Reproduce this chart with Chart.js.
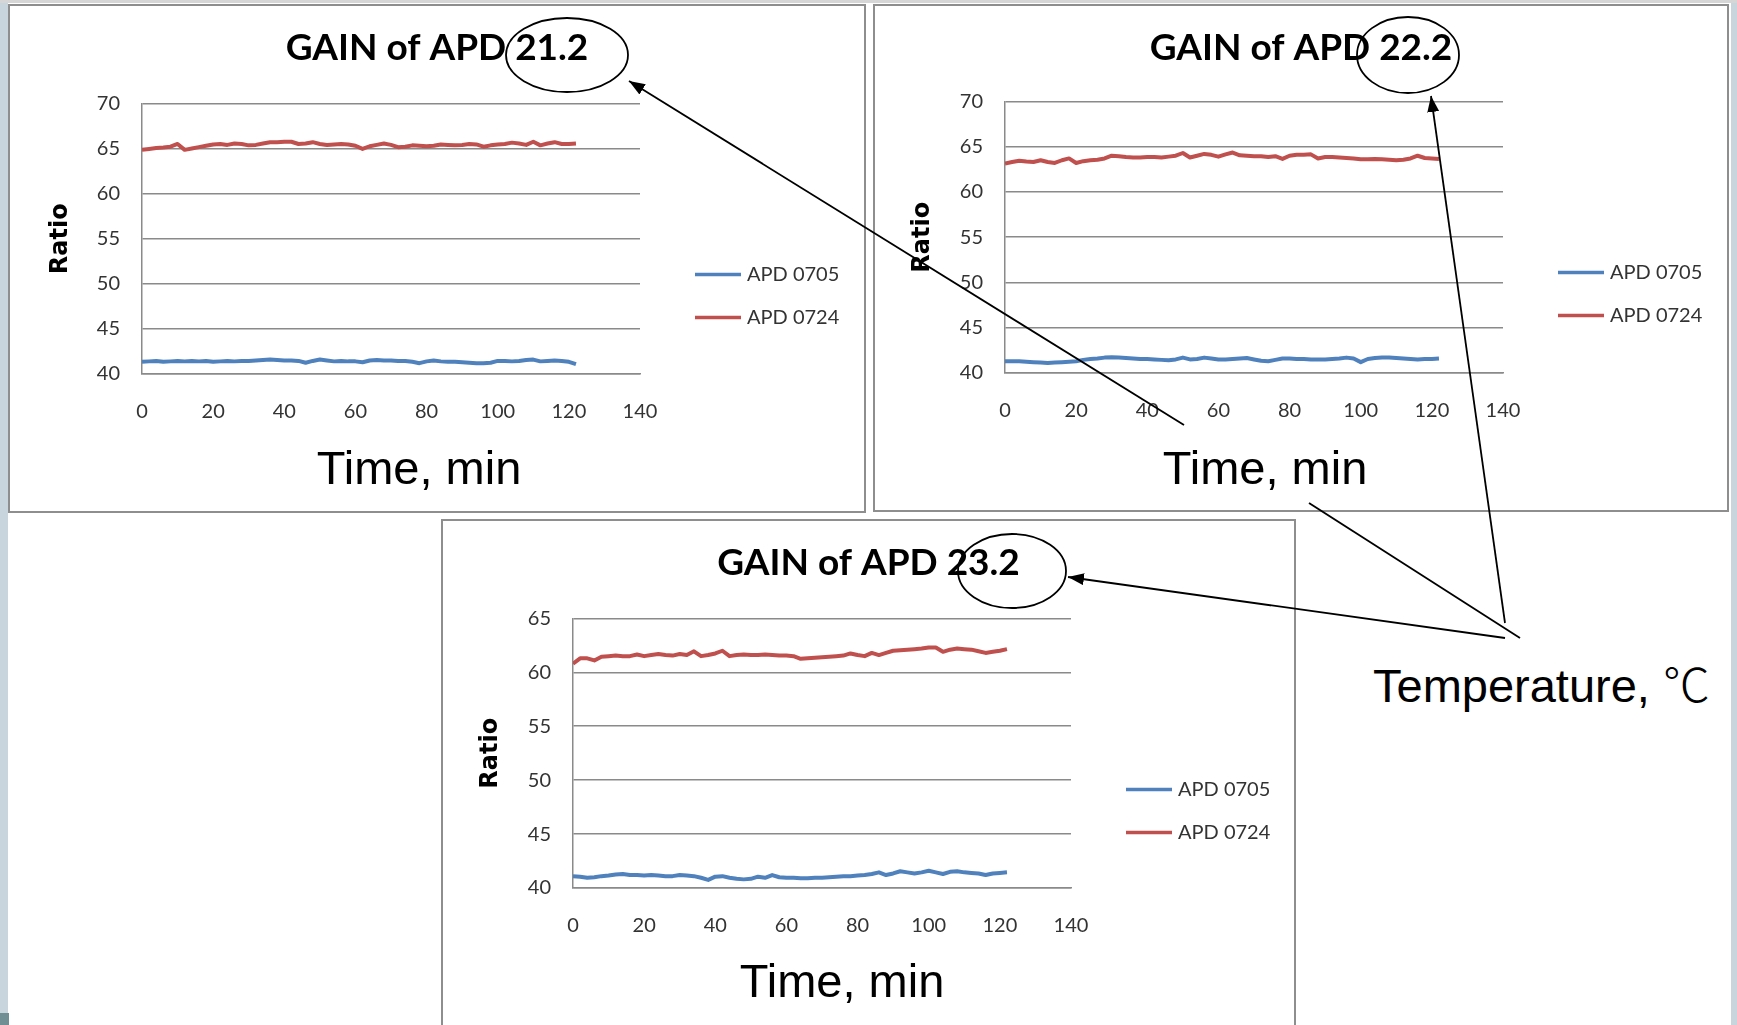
<!DOCTYPE html>
<html>
<head>
<meta charset="utf-8">
<script src="https://cdn.jsdelivr.net/npm/chart.js@4.4.0/dist/chart.umd.min.js"></script>
<style>
body { margin:0; width:1737px; height:1025px; position:relative; overflow:hidden; background:#fff; }
.strip { position:absolute; background:#c9d5dd; }
.box { position:absolute; border:2px solid #8e8e8e; background:#fff; box-sizing:border-box; }
.box canvas { position:absolute; left:0; top:0; }
.note { position:absolute; font-family:"Liberation Sans", Arial, sans-serif; font-size:47px; line-height:47px; color:#000; white-space:nowrap; }
.center { transform:translateX(-50%); }
.deg { font-family:"Noto Sans CJK SC", sans-serif; font-weight:300; }
svg { position:absolute; left:0; top:0; }
</style>
</head>
<body>
<div class="strip" style="left:0;top:0;width:8px;height:1025px"></div>
<div class="strip" style="left:1731px;top:0;width:6px;height:1025px"></div>
<div class="strip" style="left:0;top:0;width:1737px;height:3px;background:#d6d6d6"></div>
<div class="strip" style="left:0;top:1013px;width:9px;height:12px;background:#6f8f94"></div>

<div class="box" style="left:8px;top:4px;width:858px;height:509px"><canvas id="gain1" width="854" height="505"></canvas></div>
<div class="box" style="left:873px;top:4px;width:856px;height:508px"><canvas id="gain2" width="852" height="504"></canvas></div>
<div class="box" style="left:441px;top:519px;width:855px;height:510px"><canvas id="gain3" width="851" height="506"></canvas></div>

<div class="note center" style="left:419px;top:444px">Time, min</div>
<div class="note center" style="left:1265px;top:444px">Time, min</div>
<div class="note center" style="left:842px;top:957px">Time, min</div>
<div class="note" style="left:1373px;top:658px">Temperature, <span class="deg">℃</span></div>

<svg width="1737" height="1025">
  <defs>
    <marker id="head" markerUnits="userSpaceOnUse" markerWidth="16" markerHeight="12" refX="16" refY="6" orient="auto">
      <path d="M0,0 L16,6 L0,12 z" fill="#000"/>
    </marker>
  </defs>
  <g fill="none" stroke="#000" stroke-width="1.8">
    <ellipse cx="567" cy="55" rx="61" ry="37"/>
    <ellipse cx="1408" cy="55" rx="51" ry="38"/>
    <ellipse cx="1012" cy="571" rx="54" ry="37"/>
    <line x1="1184" y1="425" x2="629" y2="81" marker-end="url(#head)"/>
    <line x1="1505" y1="623" x2="1431" y2="96" marker-end="url(#head)"/>
    <line x1="1505" y1="638" x2="1068" y2="577" marker-end="url(#head)"/>
    <line x1="1309" y1="503" x2="1520" y2="638"/>
  </g>
</svg>

<script>
// time axis, minutes
var times = [0,2,4,6,8,10,12,14,16,18,20,22,24,26,28,30,32,34,36,38,40,42,44,46,48,50,52,54,56,58,
  60,62,64,66,68,70,72,74,76,78,80,82,84,86,88,90,92,94,96,98,100,102,104,106,108,110,112,114,116,118,120,122];
var xTicks = [0,20,40,60,80,100,120,140];
var yTicksAB = [40,45,50,55,60,65,70];
var yTicksC = [40,45,50,55,60,65];
var seriesNames = ["APD 0705", "APD 0724"];
var titles = ["GAIN of APD 21.2", "GAIN of APD 22.2", "GAIN of APD 23.2"];

// 21.2 C
var apd0705_a = [41.35,41.4,41.45,41.35,41.4,41.45,41.4,41.45,41.4,41.45,
  41.35,41.4,41.45,41.4,41.45,41.45,41.5,41.55,41.6,41.55,
  41.5,41.5,41.45,41.25,41.45,41.6,41.5,41.4,41.45,41.4,
  41.4,41.3,41.5,41.55,41.5,41.5,41.45,41.45,41.35,41.2,
  41.4,41.5,41.4,41.35,41.35,41.3,41.25,41.2,41.2,41.25,
  41.45,41.45,41.4,41.45,41.55,41.6,41.4,41.45,41.5,41.45,
  41.35,41.1];
var apd0724_a = [64.85,64.95,65.05,65.1,65.2,65.5,64.85,65.0,65.15,65.3,
  65.45,65.5,65.4,65.55,65.5,65.35,65.4,65.55,65.7,65.7,
  65.75,65.75,65.5,65.55,65.7,65.5,65.4,65.45,65.5,65.45,
  65.3,64.95,65.25,65.4,65.55,65.4,65.15,65.2,65.35,65.3,
  65.25,65.3,65.45,65.4,65.35,65.4,65.5,65.45,65.2,65.35,
  65.45,65.5,65.65,65.55,65.4,65.75,65.35,65.55,65.7,65.5,
  65.5,65.55];

// 22.2 C
var apd0705_b = [41.3,41.3,41.3,41.25,41.2,41.15,41.1,41.15,41.2,41.25,
  41.3,41.45,41.55,41.6,41.7,41.75,41.7,41.65,41.6,41.55,
  41.55,41.5,41.45,41.4,41.5,41.7,41.5,41.55,41.7,41.6,
  41.5,41.5,41.55,41.6,41.65,41.5,41.35,41.3,41.45,41.6,
  41.6,41.55,41.55,41.5,41.5,41.5,41.55,41.6,41.7,41.6,
  41.2,41.55,41.65,41.7,41.7,41.65,41.6,41.55,41.5,41.55,
  41.55,41.6];
var apd0724_b = [63.15,63.3,63.45,63.35,63.3,63.5,63.3,63.2,63.5,63.7,
  63.2,63.4,63.5,63.55,63.7,64.0,63.95,63.85,63.8,63.8,
  63.85,63.85,63.8,63.9,64.0,64.3,63.8,64.0,64.2,64.1,
  63.9,64.15,64.35,64.05,64.0,63.95,63.95,63.85,63.95,63.65,
  64.0,64.1,64.1,64.15,63.7,63.85,63.85,63.8,63.75,63.7,
  63.6,63.6,63.65,63.6,63.55,63.5,63.55,63.7,64.0,63.75,
  63.7,63.65];

// 23.2 C
var apd0705_c = [41.1,41.05,40.95,41.0,41.1,41.15,41.25,41.3,41.2,41.2,
  41.15,41.2,41.15,41.1,41.1,41.2,41.15,41.1,40.95,40.75,
  41.05,41.1,40.95,40.85,40.8,40.85,41.05,40.95,41.2,41.0,
  40.95,40.95,40.9,40.9,40.95,40.95,41.0,41.05,41.1,41.1,
  41.15,41.2,41.3,41.45,41.2,41.35,41.55,41.45,41.35,41.45,
  41.6,41.45,41.3,41.5,41.55,41.45,41.4,41.35,41.2,41.35,
  41.4,41.45];
var apd0724_c = [60.8,61.3,61.3,61.1,61.45,61.5,61.55,61.5,61.5,61.65,
  61.5,61.6,61.7,61.6,61.55,61.7,61.6,61.95,61.5,61.6,
  61.75,62.0,61.5,61.6,61.65,61.6,61.6,61.65,61.6,61.55,
  61.55,61.5,61.25,61.3,61.35,61.4,61.45,61.5,61.55,61.75,
  61.6,61.5,61.8,61.6,61.8,62.0,62.05,62.1,62.15,62.2,
  62.3,62.3,61.9,62.1,62.2,62.15,62.1,61.95,61.8,61.9,
  62.0,62.15];

Chart.defaults.font.family = "Lato";
Chart.defaults.color = "#333";

// legend drawn as line samples to the right of the plot
var legendLines = {
  id: "legendLines",
  afterDraw: function(chart) {
    var ctx = chart.ctx, a = chart.chartArea;
    ctx.save();
    chart.data.datasets.forEach(function(ds, i) {
      var x = a.right + 55, y = a.top + 171 + i * 43;
      ctx.strokeStyle = ds.borderColor;
      ctx.lineWidth = 3.5;
      ctx.beginPath(); ctx.moveTo(x, y); ctx.lineTo(x + 46, y); ctx.stroke();
      ctx.fillStyle = "#333";
      ctx.font = "20px Lato";
      ctx.textBaseline = "middle";
      ctx.fillText(ds.label, x + 52, y);
    });
    ctx.restore();
  }
};

function points(vals) {
  return times.map(function(t, i) { return {x: t, y: vals[i]}; });
}

function makeChart(id, title, blue, red, yTicks, g) {
  var grey = "#8a8a8a";
  return new Chart(document.getElementById(id), {
    type: "line",
    data: {
      datasets: [
        {label: seriesNames[0], data: points(blue), borderColor: "#4f81bd", borderWidth: 4, pointRadius: 0, tension: 0, borderJoinStyle: "round"},
        {label: seriesNames[1], data: points(red), borderColor: "#c0504d", borderWidth: 4, pointRadius: 0, tension: 0, borderJoinStyle: "round"}
      ]
    },
    options: {
      responsive: false,
      animation: false,
      layout: {padding: 0},
      plugins: {
        legend: {display: false},
        tooltip: {enabled: false},
        title: {
          display: true,
          text: title,
          color: "#000",
          font: {family: "Lato", size: 37, weight: "bold", lineHeight: 1.2},
          padding: {top: g.titleTop, bottom: g.titleBottom}
        }
      },
      scales: {
        x: {
          type: "linear",
          min: xTicks[0], max: xTicks[xTicks.length - 1],
          afterBuildTicks: function(s) { s.ticks = xTicks.map(function(v) { return {value: v}; }); },
          afterFit: function(s) { s.height = g.xHeight; },
          grid: {display: false, drawTicks: false},
          border: {display: true, color: grey, width: 1.5},
          ticks: {padding: 26, font: {size: 20}, color: "#333"}
        },
        y: {
          min: yTicks[0], max: yTicks[yTicks.length - 1],
          afterBuildTicks: function(s) { s.ticks = yTicks.map(function(v) { return {value: v}; }); },
          afterFit: function(s) { s.width = g.yWidth; },
          grid: {color: grey, lineWidth: 1.5, drawTicks: false},
          border: {display: true, color: grey, width: 1.5},
          ticks: {padding: 22, font: {size: 20}, color: "#333"},
          title: {
            display: true,
            text: "Ratio",
            color: "#000",
            font: {family: "DejaVu Sans", size: 24, weight: "bold", lineHeight: 1.2},
            padding: {top: g.ratioPad, bottom: 0}
          }
        },
        side: {
          position: "right",
          display: true,
          afterFit: function(s) { s.width = g.rightSpace; },
          grid: {display: false, drawTicks: false},
          border: {display: false},
          ticks: {display: false}
        }
      }
    },
    plugins: [legendLines]
  });
}

makeChart("gain1", titles[0], apd0705_a, apd0724_a, yTicksAB,
  {titleTop: 20, titleBottom: 33, xHeight: 137, yWidth: 132, ratioPad: 36.6, rightSpace: 224});
makeChart("gain2", titles[1], apd0705_b, apd0724_b, yTicksAB,
  {titleTop: 20, titleBottom: 31, xHeight: 137, yWidth: 130, ratioPad: 33.6, rightSpace: 224});
makeChart("gain3", titles[2], apd0705_c, apd0724_c, yTicksC,
  {titleTop: 20, titleBottom: 33, xHeight: 139, yWidth: 130, ratioPad: 33.6, rightSpace: 223});
</script>
</body>
</html>
